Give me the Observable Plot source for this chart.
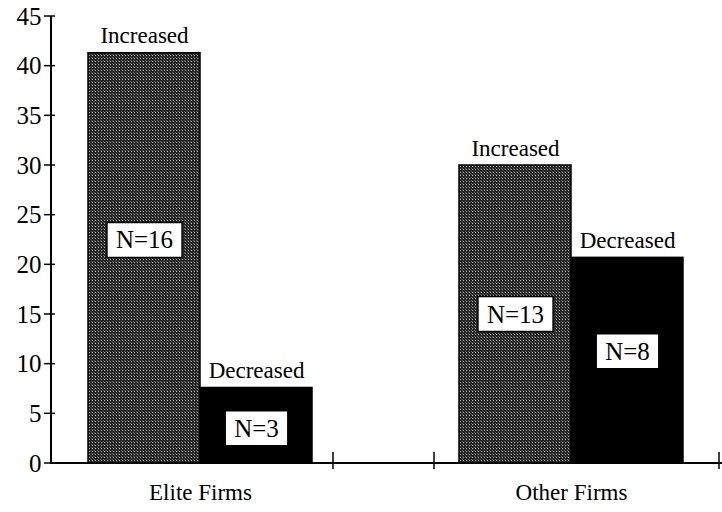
<!DOCTYPE html>
<html><head><meta charset="utf-8">
<script src="https://cdn.jsdelivr.net/npm/d3@7"></script>
<script src="https://cdn.jsdelivr.net/npm/@observablehq/plot@0.6"></script>
<style>
  html, body { margin: 0; padding: 0; background: #fff; }
  #chart svg { display: block; }
  #chart svg text { font-family: "Liberation Serif", "Times New Roman", "DejaVu Serif", serif !important; }
  #fontwarm { position: absolute; left: -9999px; top: 0; font-family: "Liberation Serif"; font-size: 23px; }
</style>
</head><body>
<span id="fontwarm">Increased Decreased N=16 0123456789 Elite Other Firms</span>
<svg width="0" height="0" style="position:absolute">
  <defs>
    <pattern id="stipple" patternUnits="userSpaceOnUse" width="3" height="3">
      <rect width="3" height="3" fill="#262626"></rect>
      <rect x="1" y="1" width="1" height="1" fill="#b0b0b0"></rect>
      <rect x="0" y="0" width="1" height="1" fill="#5a5a5a"></rect>
    </pattern>
  </defs>
</svg>
<div id="chart"></div>
<script>
// ---- data ----
const groups = ["Elite Firms", "Other Firms"];
const changes = ["Increased", "Decreased"];
const increasedValues = [41.3, 30.0];
const decreasedValues = [7.6, 20.7];
const nIncreased = [16, 13];
const nDecreased = [3, 8];
// where the N= boxes sit (in data units)
const nLabelYIncreased = [22.45, 15.0];
const nLabelYDecreased = [3.5, 11.25];
const yTicks = [0, 5, 10, 15, 20, 25, 30, 35, 40, 45];

const rows = [];
groups.forEach((g, i) => {
  rows.push({group: g, change: "Increased", value: increasedValues[i], n: nIncreased[i], ny: nLabelYIncreased[i]});
  rows.push({group: g, change: "Decreased", value: decreasedValues[i], n: nDecreased[i], ny: nLabelYDecreased[i]});
});

const font = "Liberation Serif";

function render() {
  const plot = Plot.plot({
    width: 722,
    height: 512,
    marginLeft: 51,
    marginRight: 2,
    marginTop: 16,
    marginBottom: 49,
    style: {fontFamily: font, fontSize: "22px", background: "#fff", color: "#000"},
    fx: {domain: groups, paddingInner: 0.2016, paddingOuter: 0, label: null, axis: null},
    x: {domain: changes, paddingInner: 0, paddingOuter: 0.32, axis: null},
    y: {domain: [0, 45], axis: null},
    marks: [
      Plot.barY(rows.filter(d => d.change === "Increased"), {
        fx: "group", x: "change", y: "value",
        fill: "url(#stipple)", stroke: "#000", strokeWidth: 1.5
      }),
      Plot.barY(rows.filter(d => d.change === "Decreased"), {
        fx: "group", x: "change", y: "value",
        fill: "#000", stroke: "#000", strokeWidth: 1.5
      }),
      Plot.text(rows, {
        fx: "group", x: "change", y: "value", text: "change",
        lineAnchor: "bottom", dy: -10, fontSize: 23, fontFamily: font, fill: "#000"
      }),
      Plot.text(rows, {
        fx: "group", x: "change", y: "ny", text: d => `N=${d.n}`,
        lineAnchor: "middle", fontSize: 25, fontFamily: font, fill: "#000",
        ariaLabel: () => "n-label"
      }),
      Plot.axisY(yTicks, {tickSize: 0, tickPadding: 11, fontSize: 25, fontFamily: font, anchor: "left"}),
      Plot.axisFx({anchor: "bottom", tickSize: 0, tickPadding: 20, fontSize: 23, fontFamily: font, label: null})
    ]
  });

  const host = document.getElementById("chart");
  host.replaceChildren(plot);

  // ---- decorations built from Plot's scales ----
  const svg = d3.select(plot);

  // white boxes behind N= labels
  svg.selectAll('text[aria-label="n-label"]').each(function() {
    const bb = this.getBBox();
    const padX = 9, padY = 5;
    d3.select(this.parentNode).insert("rect", () => this)
      .attr("transform", this.getAttribute("transform"))
      .attr("x", bb.x - padX).attr("y", bb.y - padY + 1)
      .attr("width", bb.width + 2 * padX).attr("height", bb.height + 2 * padY - 2)
      .attr("fill", "#fff").attr("stroke", "#000").attr("stroke-width", 1.5);
  });

  const y = plot.scale("y");
  const fx = plot.scale("fx");
  const x0 = 51, y0 = y.apply(0);
  const axes = svg.append("g").attr("stroke", "#000").attr("fill", "none");
  axes.append("line").attr("x1", x0).attr("x2", x0).attr("y1", y.apply(45)).attr("y2", y0 + 1).attr("stroke-width", 2);
  axes.append("line").attr("x1", x0 - 1).attr("x2", 722).attr("y1", y0).attr("y2", y0).attr("stroke-width", 2);
  yTicks.forEach(t => {
    axes.append("line").attr("x1", x0 - 7).attr("x2", x0 + 4)
      .attr("y1", y.apply(t)).attr("y2", y.apply(t)).attr("stroke-width", 1.5);
  });
  const bw = fx.bandwidth;
  const xTickPos = [fx.apply(groups[0]) + bw - 15, fx.apply(groups[1]) + 11, fx.apply(groups[1]) + bw];
  xTickPos.forEach(p => {
    axes.append("line").attr("x1", p).attr("x2", p).attr("y1", y0 - 11).attr("y2", y0 + 6).attr("stroke-width", 1.5);
  });
}

render();
if (document.fonts && document.fonts.load) {
  document.fonts.load("23px 'Liberation Serif'").then(render).catch(() => {});
}
</script>
</body></html>
